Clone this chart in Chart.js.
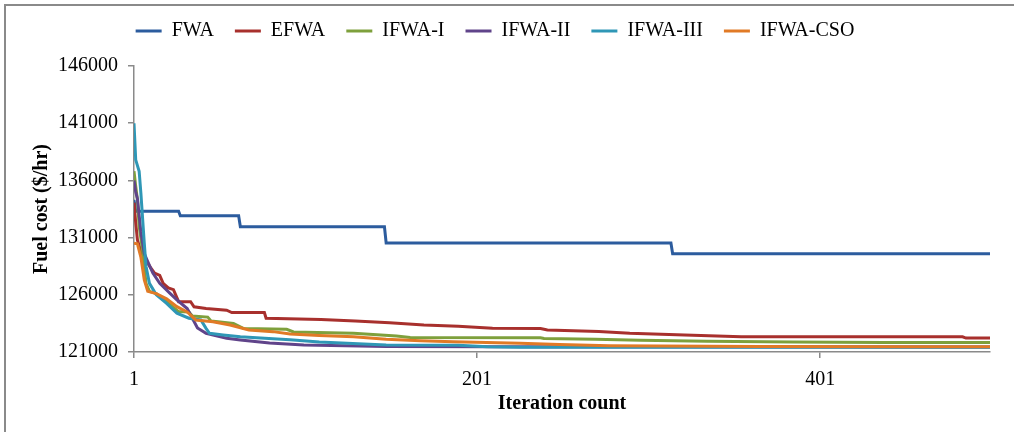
<!DOCTYPE html>
<html>
<head>
    <script src="https://cdn.jsdelivr.net/npm/chart.js@4.4.0/dist/chart.umd.min.js"></script>
    <style>
        body { margin: 0; background: #fff; }
    </style>
</head>
<body>

    <canvas id="fuelChart" width="1014" height="432"></canvas>

    <script>
        // iteration / fuel cost pairs
        const seriesNames = ['FWA', 'EFWA', 'IFWA-I', 'IFWA-II', 'IFWA-III', 'IFWA-CSO'];
        const seriesColors = ['#2C5C9E', '#A8302D', '#7EA03C', '#60448A', '#2F97B6', '#E17A26'];

        const fwaIter = [1, 2, 27, 28, 62, 63, 147, 148, 314, 315, 500];
        const fwaCost = [134300, 133300, 133300, 132900, 132900, 131950, 131950, 130530, 130530, 129580, 129580];

        const efwaIter = [1, 2, 3, 5, 8, 11, 13, 16, 18, 21, 24, 27, 34, 36, 43, 55, 58, 77, 78, 110, 130, 150, 170, 190, 210, 238, 242, 272, 290, 322, 355, 484, 486, 500];
        const efwaCost = [134050, 132300, 130800, 129800, 129000, 128300, 127900, 127700, 127000, 126600, 126450, 125400, 125400, 124950, 124800, 124650, 124450, 124450, 123950, 123850, 123700, 123550, 123350, 123250, 123080, 123050, 122920, 122800, 122630, 122490, 122340, 122330, 122220, 122220];

        const ifwa1Iter = [1, 2, 3, 4, 6, 8, 10, 14, 17, 20, 24, 27, 33, 35, 44, 46, 59, 65, 90, 94, 129, 154, 162, 238, 240, 270, 296, 335, 385, 438, 500];
        const ifwa1Cost = [136800, 135500, 134300, 132000, 129900, 127000, 126300, 126100, 125700, 125400, 124900, 124530, 124500, 124150, 124050, 123700, 123500, 123050, 122980, 122750, 122630, 122400, 122260, 122250, 122180, 122110, 122020, 121930, 121870, 121840, 121840];

        const ifwa2Iter = [1, 2, 3, 5, 7, 9, 12, 16, 22, 26, 32, 35, 38, 43, 55, 63, 80, 100, 148, 210, 500];
        const ifwa2Cost = [136000, 135000, 134400, 131500, 129600, 128900, 127900, 127000, 126130, 125550, 124800, 123950, 123100, 122630, 122200, 122050, 121780, 121620, 121470, 121450, 121430];

        const ifwa3Iter = [1, 2, 4, 5, 7, 8, 10, 14, 20, 26, 33, 40, 43, 45, 53, 63, 82, 92, 109, 148, 190, 207, 226, 500];
        const ifwa3Cost = [141000, 137800, 136800, 134900, 130500, 128500, 127000, 126000, 125250, 124400, 123950, 123800, 123070, 122630, 122490, 122340, 122150, 122070, 121870, 121610, 121600, 121460, 121420, 121420];

        const csoIter = [1, 3, 5, 7, 9, 14, 20, 26, 32, 37, 47, 57, 68, 82, 92, 109, 129, 148, 168, 187, 226, 249, 278, 366, 453, 500];
        const csoCost = [130500, 130450, 129300, 127300, 126300, 126100, 125650, 124960, 124500, 123800, 123650, 123360, 122920, 122780, 122570, 122450, 122340, 122110, 121990, 121900, 121760, 121650, 121550, 121480, 121460, 121460];

        const xTicks = [1, 201, 401];

        const allIters = [fwaIter, efwaIter, ifwa1Iter, ifwa2Iter, ifwa3Iter, csoIter];
        const allCosts = [fwaCost, efwaCost, ifwa1Cost, ifwa2Cost, ifwa3Cost, csoCost];

        Chart.defaults.font.family = "'Liberation Serif', 'Times New Roman', serif";
        Chart.defaults.font.size = 20;
        Chart.defaults.color = '#000';

        const datasets = seriesNames.map((name, i) => ({
            label: name,
            data: allIters[i].map((it, j) => ({ x: it, y: allCosts[i][j] })),
            borderColor: seriesColors[i],
            backgroundColor: seriesColors[i],
            borderWidth: 3,
            pointRadius: 0,
            tension: 0,
            order: seriesNames.length - i   // last series painted on top, like Excel
        }));

        // extra room between legend and plot
        const legendGap = {
            id: 'legendGap',
            beforeInit(chart) {
                if (!chart.legend) return;
                const fit = chart.legend.fit;
                chart.legend.fit = function () {
                    fit.bind(chart.legend)();
                    this.height += 15;
                };
            }
        };

        // chart area frame (top + left edges visible in the picture)
        const frame = {
            id: 'frame',
            beforeDraw(chart) {
                const ctx = chart.ctx;
                ctx.save();
                ctx.strokeStyle = '#8a8a8a';
                ctx.lineWidth = 2;
                ctx.beginPath();
                ctx.moveTo(5, chart.height);
                ctx.lineTo(5, 5);
                ctx.lineTo(chart.width, 5);
                ctx.stroke();
                ctx.restore();
            }
        };

        const ctx = document.getElementById('fuelChart').getContext('2d');
        new Chart(ctx, {
            type: 'line',
            data: { datasets: datasets },
            plugins: [legendGap, frame],
            options: {
                responsive: false,
                animation: false,
                devicePixelRatio: 1,
                layout: { padding: { top: 0, left: 0, right: 24, bottom: 0 } },
                plugins: {
                    legend: {
                        position: 'top',
                        labels: {
                            boxWidth: 26,
                            boxHeight: 3,
                            padding: 21,
                            sort: (a, b) => a.datasetIndex - b.datasetIndex,
                            generateLabels: chart => Chart.defaults.plugins.legend.labels.generateLabels(chart).map(item => {
                                item.fillStyle = item.strokeStyle;
                                item.lineWidth = 0;
                                return item;
                            })
                        }
                    },
                    tooltip: { enabled: false }
                },
                scales: {
                    x: {
                        type: 'linear',
                        min: 1,
                        max: 500,
                        afterBuildTicks: scale => { scale.ticks = xTicks.map(v => ({ value: v })); },
                        afterFit: scale => { scale.height = 80; },
                        ticks: { padding: 10, maxRotation: 0, callback: v => String(v) },
                        grid: { drawOnChartArea: false, drawTicks: true, tickLength: 6, color: '#8a8a8a', lineWidth: 1.5 },
                        border: { display: true, color: '#8a8a8a', width: 1.5 },
                        title: {
                            display: true,
                            text: 'Iteration count',
                            font: { size: 20, weight: 'bold' },
                            padding: { top: 0, bottom: 16 }
                        }
                    },
                    y: {
                        min: 121000,
                        max: 146000,
                        afterFit: scale => { scale.width = 134; },
                        ticks: { stepSize: 5000, padding: 10, callback: v => String(v) },
                        grid: { drawOnChartArea: false, drawTicks: true, tickLength: 6, color: '#8a8a8a', lineWidth: 1.5 },
                        border: { display: true, color: '#8a8a8a', width: 1.5 },
                        title: {
                            display: true,
                            text: 'Fuel cost ($/hr)',
                            font: { size: 20, weight: 'bold' },
                            padding: { top: 30, bottom: 0 }
                        }
                    }
                }
            }
        });
    </script>
</body>
</html>
